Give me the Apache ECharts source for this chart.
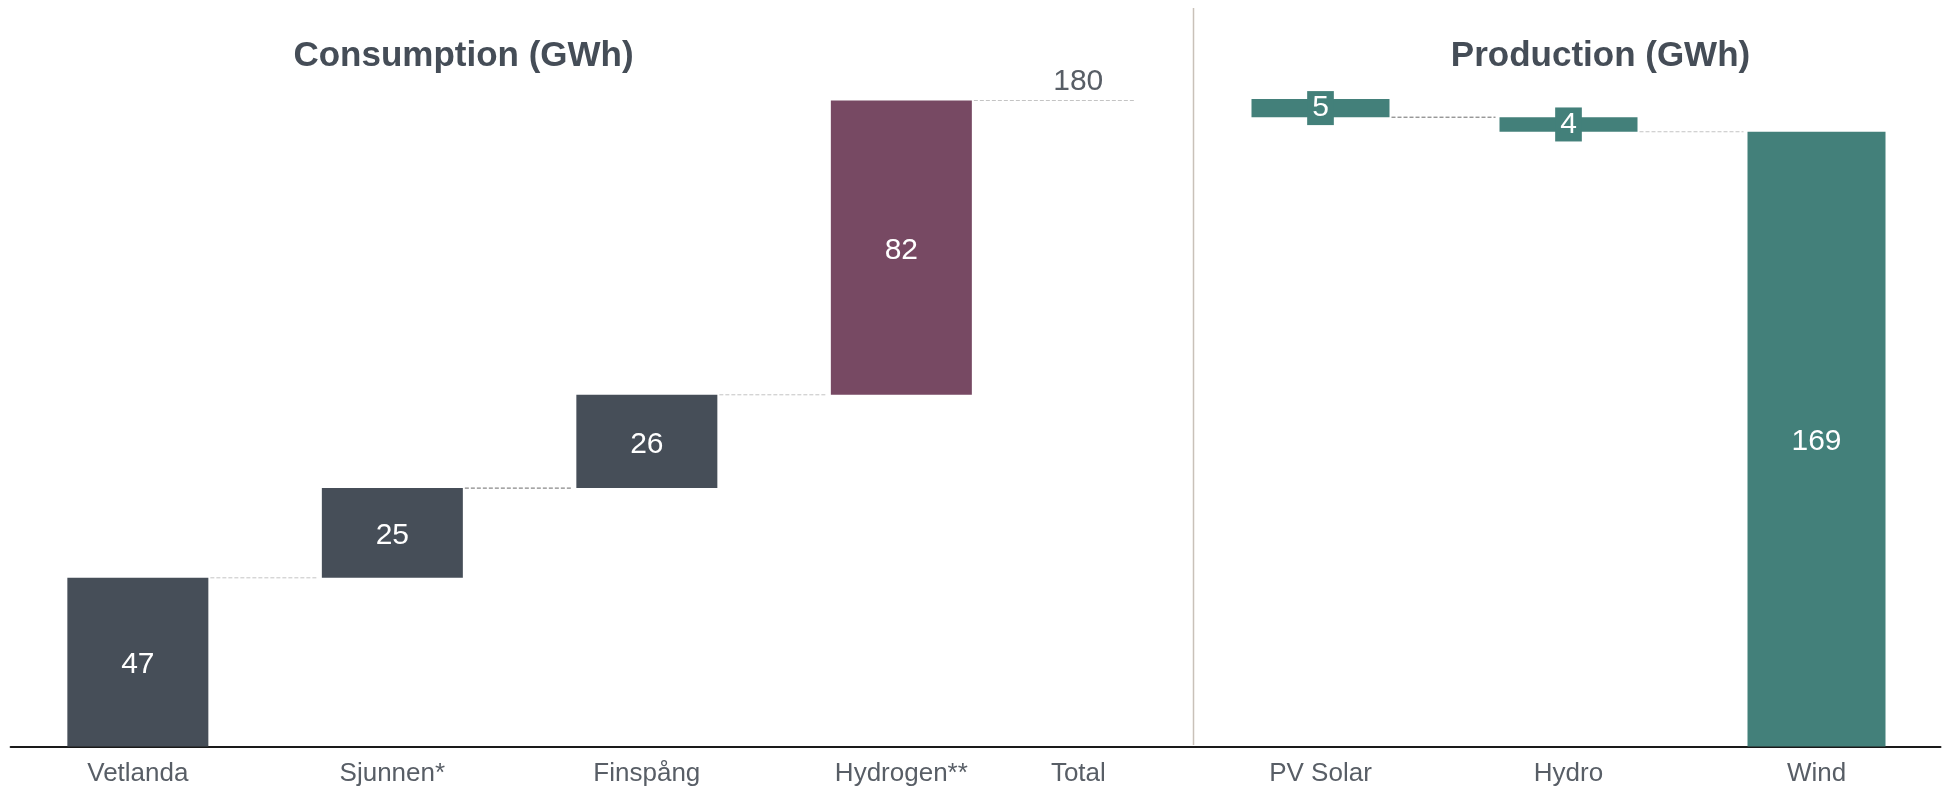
<!DOCTYPE html>
<html>
<head>
<meta charset="utf-8">
<title>Consumption and Production (GWh)</title>
<script src="https://cdn.jsdelivr.net/npm/echarts@6/dist/echarts.min.js"></script>
<style>
  html, body { margin: 0; padding: 0; background: #ffffff; }
  #chart { width: 1946px; height: 787px; }
</style>
</head>
<body>
<div id="chart"></div>
<script>
// ---- data ----
const consumptionCategories = ['Vetlanda', 'Sjunnen*', 'Finspång', 'Hydrogen**', 'Total'];
const consumptionValues = [47, 25, 26, 82];
const productionCategories = ['PV Solar', 'Hydro', 'Wind'];
const productionValues = [5, 4, 169];

// ---- derived waterfall geometry (in data units) ----
const consumptionBase = [];
let running = 0;
consumptionValues.forEach(v => { consumptionBase.push(running); running += v; });
const consumptionTotal = running;                       // 180
const consumptionTops = consumptionValues.map((v, i) => consumptionBase[i] + v);

// production stacks downward from left to right: the last bar sits on the axis
const productionBase = productionValues.map((v, i) =>
  productionValues.slice(i + 1).reduce((a, b) => a + b, 0));
const productionTotal = productionValues.reduce((a, b) => a + b, 0);   // 178

// ---- styles ----
const FONT = "'Liberation Sans', Arial, Helvetica, sans-serif";
const SLATE = '#464e58';
const PURPLE = '#774963';
const TEAL = '#43807a';
const TEXT_DARK = '#454d57';
const TEXT_GREY = '#585e66';
const DASH_LIGHT = '#c4c4c4';
const DASH_DARK = '#6a6a6a';

const CONS_BAR = 141;
const PROD_BAR = 138;
const TOTAL_SHIFT = -0.305;   // Total label sits left of its band centre (fraction of band)

const consumptionDashColors = [DASH_LIGHT, DASH_DARK, DASH_LIGHT, DASH_LIGHT];
const productionDashColors = [DASH_DARK, DASH_LIGHT];

const chart = echarts.init(document.getElementById('chart'), null, { renderer: 'canvas' });

const axisLabelBase = {
  color: TEXT_GREY,
  fontSize: 26,
  fontFamily: FONT,
  margin: 14
};

const valueLabel = {
  show: true, position: 'inside', color: '#ffffff',
  fontSize: 30, fontFamily: FONT, offset: [0, 3]
};

const option = {
  animation: false,
  backgroundColor: '#ffffff',
  grid: [
    { left: 10.6, width: 1272.5, top: 100.5, bottom: 40.5, outerBoundsMode: 'none', containLabel: false },
    { left: 1196.5, width: 744, top: 99, bottom: 40.5, outerBoundsMode: 'none', containLabel: false }
  ],
  xAxis: [
    {
      type: 'category', gridIndex: 0, data: consumptionCategories,
      axisLine: { lineStyle: { color: '#1a1a1a', width: 2 } },
      axisTick: { show: false },
      axisLabel: Object.assign({}, axisLabelBase, {
        interval: 0,
        formatter: v => v === 'Total' ? '{shift|' + v + '}' : v,
        rich: {
          shift: {
            color: TEXT_GREY, fontSize: 26, fontFamily: FONT,
            padding: [0, 155, 0, 0]
          }
        }
      }),
      splitLine: { show: false }
    },
    {
      type: 'category', gridIndex: 1, data: productionCategories,
      axisLine: { lineStyle: { color: '#1a1a1a', width: 2 } },
      axisTick: { show: false },
      axisLabel: Object.assign({}, axisLabelBase, { interval: 0 }),
      splitLine: { show: false }
    }
  ],
  yAxis: [
    { type: 'value', gridIndex: 0, min: 0, max: consumptionTotal, show: false, splitLine: { show: false } },
    { type: 'value', gridIndex: 1, min: 0, max: productionTotal, show: false, splitLine: { show: false } }
  ],
  graphic: [
    {
      type: 'text', x: 463.5, y: 56, silent: true,
      style: {
        text: 'Consumption (GWh)', fill: TEXT_DARK,
        font: 'bold 35px ' + FONT, align: 'center', verticalAlign: 'middle'
      }
    },
    {
      type: 'text', x: 1600.5, y: 56, silent: true,
      style: {
        text: 'Production (GWh)', fill: TEXT_DARK,
        font: 'bold 35px ' + FONT, align: 'center', verticalAlign: 'middle'
      }
    },
    {
      type: 'line', silent: true,
      shape: { x1: 1193.5, y1: 8, x2: 1193.5, y2: 745 },
      style: { stroke: '#c9c1b9', lineWidth: 1.5 }
    }
  ],
  series: [
    // consumption: invisible offsets
    {
      type: 'bar', xAxisIndex: 0, yAxisIndex: 0, stack: 'cons',
      barWidth: CONS_BAR, silent: true,
      itemStyle: { color: 'transparent' },
      data: consumptionBase
    },
    // consumption: visible steps
    {
      type: 'bar', xAxisIndex: 0, yAxisIndex: 0, stack: 'cons',
      barWidth: CONS_BAR,
      data: consumptionValues.map((v, i) => ({
        value: v,
        itemStyle: { color: consumptionCategories[i].startsWith('Hydrogen') ? PURPLE : SLATE }
      })),
      label: valueLabel
    },
    // consumption: dashed connectors and total value
    {
      type: 'custom', xAxisIndex: 0, yAxisIndex: 0, silent: true,
      data: consumptionTops.map((t, i) => [i, t]),
      renderItem: (params, api) => {
        const i = api.value(0);
        const level = api.value(1);
        const p = api.coord([i, level]);
        const band = api.size([1, 0])[0];
        const x1 = p[0] + CONS_BAR / 2 + 2;
        const isLast = i === consumptionValues.length - 1;
        const children = [];
        if (isLast) {
          const totalX = p[0] + band * (1 + TOTAL_SHIFT);
          children.push({
            type: 'line',
            shape: { x1: x1, y1: p[1], x2: totalX + 57, y2: p[1] },
            style: { stroke: consumptionDashColors[i], lineWidth: 1, lineDash: [4, 2] }
          });
          children.push({
            type: 'text', x: totalX, y: p[1] - 19,
            style: {
              text: String(level), fill: TEXT_GREY,
              font: '30px ' + FONT, align: 'center', verticalAlign: 'middle'
            }
          });
        } else {
          children.push({
            type: 'line',
            shape: { x1: x1, y1: p[1], x2: p[0] + band - CONS_BAR / 2 - 5, y2: p[1] },
            style: { stroke: consumptionDashColors[i], lineWidth: 1, lineDash: [4, 2] }
          });
        }
        return { type: 'group', children: children };
      }
    },
    // production: invisible offsets
    {
      type: 'bar', xAxisIndex: 1, yAxisIndex: 1, stack: 'prod',
      barWidth: PROD_BAR, silent: true,
      itemStyle: { color: 'transparent' },
      data: productionBase
    },
    // production: visible steps
    {
      type: 'bar', xAxisIndex: 1, yAxisIndex: 1, stack: 'prod',
      barWidth: PROD_BAR,
      itemStyle: { color: TEAL },
      data: productionValues.map(v => ({
        value: v,
        label: v < 20 ? {
          backgroundColor: TEAL, padding: [2, 5, 2, 5], lineHeight: 30, offset: [0, 0]
        } : {}
      })),
      label: valueLabel
    },
    // production: dashed connectors at the foot of each step
    {
      type: 'custom', xAxisIndex: 1, yAxisIndex: 1, silent: true,
      data: productionBase.slice(0, -1).map((b, i) => [i, b]),
      renderItem: (params, api) => {
        const i = api.value(0);
        const p = api.coord([i, api.value(1)]);
        const band = api.size([1, 0])[0];
        return {
          type: 'line',
          shape: {
            x1: p[0] + PROD_BAR / 2 + 2, y1: p[1],
            x2: p[0] + band - PROD_BAR / 2 - 4, y2: p[1]
          },
          style: { stroke: productionDashColors[i], lineWidth: 1, lineDash: [4, 2] }
        };
      }
    }
  ]
};

chart.setOption(option);
</script>
</body>
</html>
